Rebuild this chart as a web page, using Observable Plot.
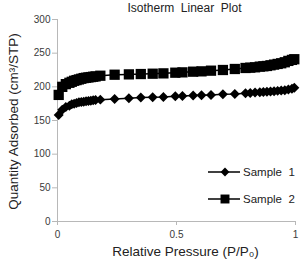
<!DOCTYPE html>
<html>
<head>
<meta charset="utf-8">
<script src="https://cdn.jsdelivr.net/npm/d3@7"></script>
<script src="https://cdn.jsdelivr.net/npm/@observablehq/plot@0.6"></script>
<style>
  html, body { margin: 0; padding: 0; background: white; }
  #chart { position: relative; width: 302px; height: 259px; }
</style>
</head>
<body>
<div id="chart"></div>
<script>
// Relative pressure P/P0 at which both samples were measured
const pressure = [0.005, 0.02, 0.035, 0.05, 0.06, 0.07, 0.08, 0.09, 0.10, 0.11, 0.12, 0.13, 0.14, 0.15, 0.16, 0.18,
  0.24, 0.30, 0.35, 0.40, 0.445, 0.495, 0.525, 0.57, 0.605, 0.645, 0.695, 0.745,
  0.79, 0.81, 0.83, 0.85, 0.865, 0.88, 0.895, 0.91, 0.925, 0.94, 0.955, 0.97, 0.985, 0.995];

// Quantity adsorbed (cm³/STP)
const sample1 = [158, 166, 170, 172, 174, 175, 176, 177, 177.5, 178, 178.5, 179, 179.5, 180, 180.3, 181,
  182, 183, 184, 184.5, 185, 186, 186.5, 187, 187.5, 188, 189, 189.5,
  190.5, 191, 191.5, 192, 192.3, 192.6, 193, 193.5, 194, 194.5, 195, 196, 197, 198.5];
const sample2 = [188, 200, 204, 206, 207.5, 209, 210, 211, 212, 213, 213.5, 214, 214.5, 215, 215.5, 216.5,
  218, 218.5, 219, 219.5, 220, 221, 221.5, 222.5, 223, 224, 225, 226.5,
  228, 228.5, 229, 230, 230.5, 231, 232, 233, 234, 235, 236.5, 238.5, 240, 241];

const seriesNames = ["Sample  1", "Sample  2"];
const yTicks = [0, 50, 100, 150, 200, 250, 300];
const xTicks = [0, 0.5, 1];
const xTickLabels = ["0", "0.5", "1"];

const rows1 = pressure.map((p, i) => ({p, q: sample1[i]}));
const rows2 = pressure.map((p, i) => ({p, q: sample2[i]}));

const axisGray = "#b8b8b8";
const font = "'Liberation Sans', Arial, sans-serif";

const chart = Plot.plot({
  width: 302,
  height: 259,
  marginTop: 19,
  marginRight: 7,
  marginBottom: 38,
  marginLeft: 57,
  style: {fontFamily: font, fontSize: "10px", color: "#333", background: "white", overflow: "visible"},
  x: {domain: [0, 1]},
  y: {domain: [0, 300]},
  marks: [
    Plot.axisY(yTicks, {tickSize: 5, tickPadding: 2, stroke: axisGray, fill: "#3a3a3a", label: null}),
    Plot.axisX(xTicks, {tickSize: 4, tickPadding: 5, stroke: axisGray, fill: "#3a3a3a", label: null,
      tickFormat: (d, i) => xTickLabels[i]}),
    Plot.ruleX([0], {stroke: axisGray}),
    Plot.ruleY([0], {stroke: axisGray}),
    Plot.line(rows1, {x: "p", y: "q", stroke: "black", strokeWidth: 1.5}),
    Plot.dot(rows1, {x: "p", y: "q", symbol: "diamond2", r: 4.5, fill: "black"}),
    Plot.line(rows2, {x: "p", y: "q", stroke: "black", strokeWidth: 1.5}),
    Plot.dot(rows2, {x: "p", y: "q", symbol: "square", r: 5.8, fill: "black"}),
    Plot.text(["Isotherm  Linear  Plot"], {frameAnchor: "top", dy: -16.5, dx: 8, fontSize: 12, fill: "#222"}),
    Plot.text(["Quantity Adsorbed (cm³/STP)"], {frameAnchor: "left", textAnchor: "middle", rotate: -90, dx: -44, dy: 1, fontSize: 13.5, fill: "#222"}),
    Plot.text(["Relative Pressure (P/P₀)"], {frameAnchor: "bottom", dy: 34, dx: 9, fontSize: 13.5, fill: "#222"})
  ]
});

document.getElementById("chart").appendChild(chart);

// Legend inside the plot area, lower right
const svg = d3.select(chart);
const legend = svg.append("g")
  .attr("font-family", font)
  .attr("font-size", 11.5)
  .attr("fill", "#222")
  .attr("text-anchor", "start");
const symbols = [d3.symbol(d3.symbolDiamond2, 50), d3.symbol(d3.symbolSquare, 80)];
seriesNames.forEach((name, i) => {
  const y = 172 + i * 27;
  const g = legend.append("g").attr("transform", `translate(208,${y})`);
  g.append("line").attr("x1", 0).attr("x2", 32).attr("stroke", "black").attr("stroke-width", 1.5);
  g.append("path").attr("d", symbols[i]()).attr("transform", "translate(17,0)").attr("fill", "black");
  g.append("text").attr("x", 35).attr("dy", "0.35em").text(name);
});
</script>
</body>
</html>
